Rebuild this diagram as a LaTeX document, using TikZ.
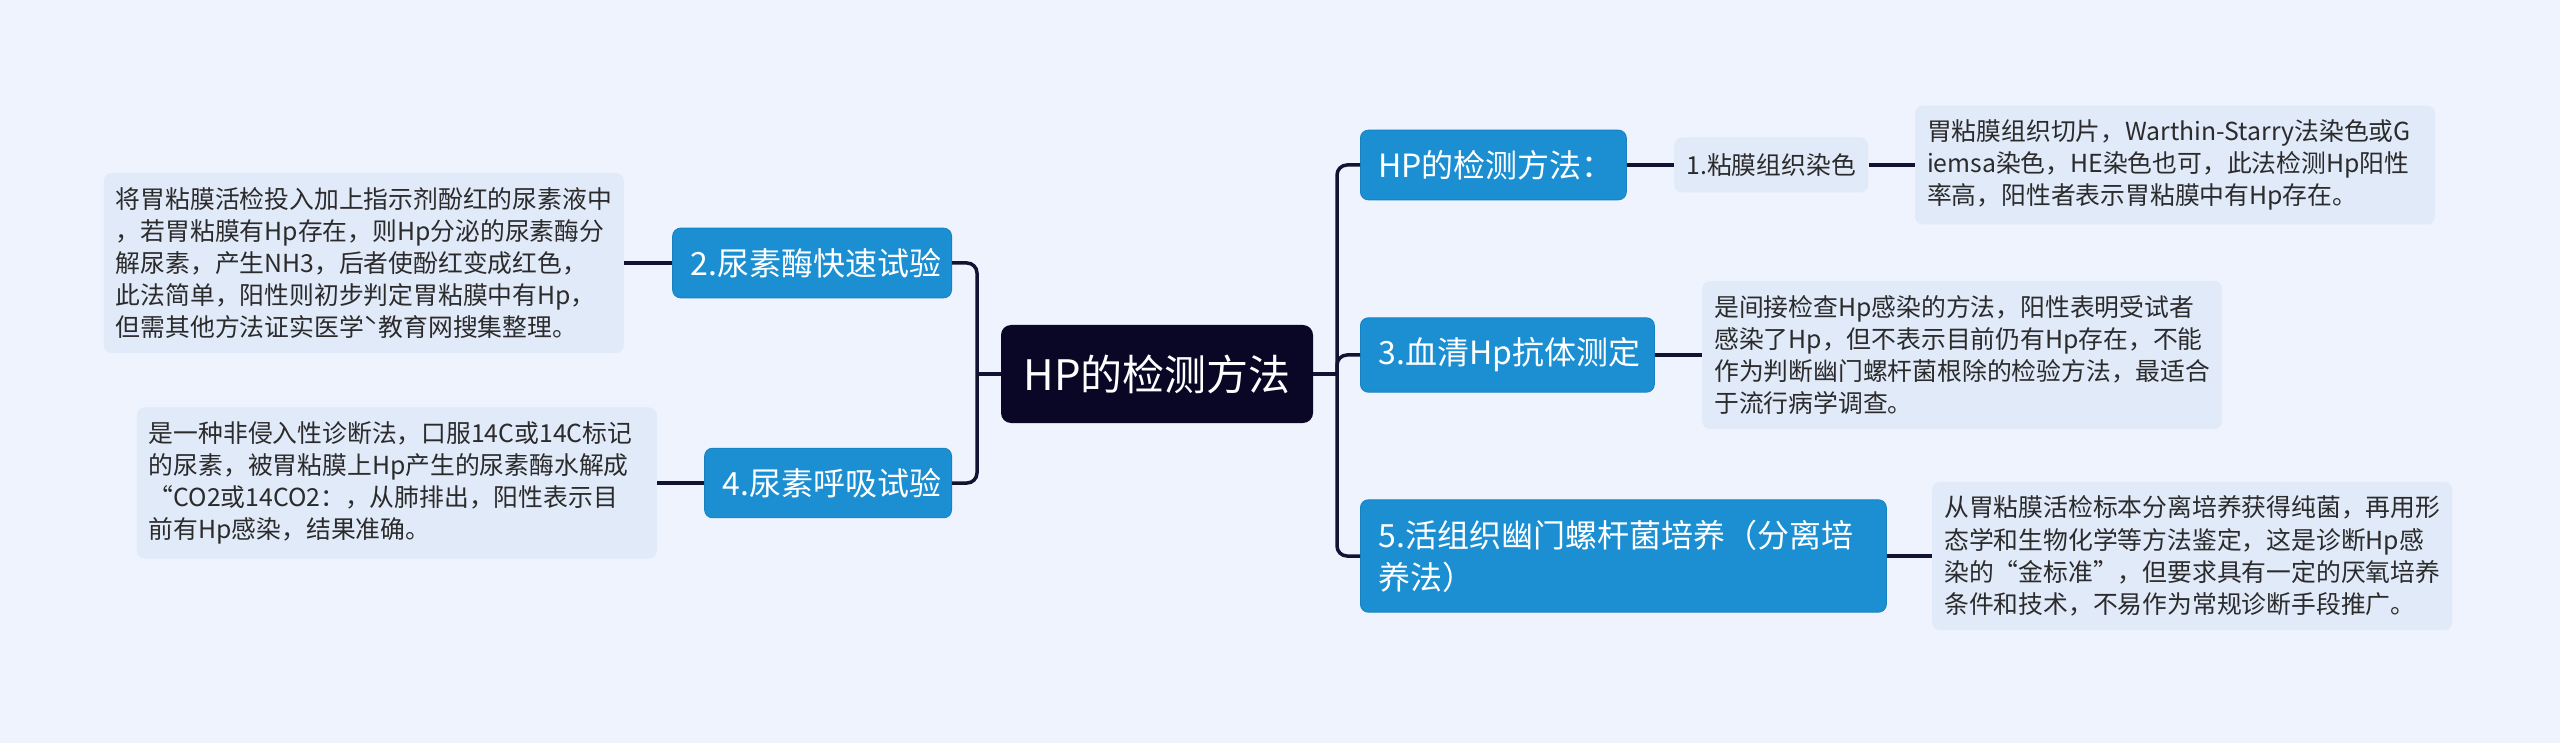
\documentclass[tikz,border=0pt]{standalone}
\usepackage{fontspec}
\setmainfont{Noto Sans CJK SC}
\usetikzlibrary{positioning}

\definecolor{pagebg}{HTML}{EEF3FD}
\definecolor{rootnavy}{HTML}{0A0726}
\definecolor{branchblue}{HTML}{1B8FD2}
\definecolor{branchedge}{HTML}{1682C2}
\definecolor{leafbg}{HTML}{E1EAF9}
\definecolor{leaftext}{HTML}{2B2B2B}
\definecolor{linknavy}{HTML}{141233}

\begin{document}
\begin{tikzpicture}[
    x=0.5pt, y=-0.5pt,
    node distance=23.5pt,
    root/.style={
        rectangle,
        fill=rootnavy,
        rounded corners=5pt,
        text=white,
        minimum width=156pt,
        minimum height=49pt,
        font=\fontsize{21}{26}\selectfont
    },
    branch/.style={
        rectangle,
        draw=branchedge,
        fill=branchblue,
        rounded corners=4pt,
        text=white,
        align=left,
        inner xsep=9pt,
        inner ysep=10pt,
        font=\fontsize{16}{21}\selectfont
    },
    topic/.style={
        rectangle,
        fill=leafbg,
        rounded corners=4pt,
        text=leaftext,
        minimum width=97pt,
        minimum height=27.5pt,
        font=\fontsize{12.4}{16}\selectfont
    },
    leaf/.style={
        rectangle,
        fill=leafbg,
        rounded corners=4pt,
        text=leaftext,
        align=left,
        text width=248pt,
        inner xsep=6pt,
        inner ysep=7pt,
        font=\fontsize{12.4}{16.1}\selectfont
    },
    link/.style={
        draw=linknavy,
        line width=1.75pt,
        rounded corners=5pt
    }
]

    % --- Canvas ---
    \fill[pagebg] (0,0) rectangle (2560,743);
    \useasboundingbox (0,0) rectangle (2560,743);

    % --- Root ---
    \node [root] (root) at (1157,374) {HP的检测方法};
    \coordinate (hubR) at (1337,374);
    \coordinate (hubL) at (977,374);

    % --- Right side ---
    \node [branch, text width=115pt, anchor=west] (detect) at (1360,165) {HP的检测方法：};
    \node [topic, right=of detect] (stain) {1.粘膜组织染色};
    \node [leaf, right=23pt of stain] (stainleaf) {
        胃粘膜组织切片，Warthin-Starry法染色或G\\
        iemsa染色，HE染色也可，此法检测Hp阳性\\
        率高，阳性者表示胃粘膜中有Hp存在。
    };

    \node [branch, text width=129pt, anchor=west] (serum) at (1360,355) {3.血清Hp抗体测定};
    \node [leaf, right=of serum] (serumleaf) {
        是间接检查Hp感染的方法，阳性表明受试者\\
        感染了Hp，但不表示目前仍有Hp存在，不能\\
        作为判断幽门螺杆菌根除的检验方法，最适合\\
        于流行病学调查。
    };

    \node [branch, text width=245pt, anchor=west] (culture) at (1360,556) {
        5.活组织幽门螺杆菌培养（分离培\\
        养法）
    };
    \node [leaf, right=22.5pt of culture] (cultureleaf) {
        从胃粘膜活检标本分离培养获得纯菌，再用形\\
        态学和生物化学等方法鉴定，这是诊断Hp感\\
        染的“金标准”，但要求具有一定的厌氧培养\\
        条件和技术，不易作为常规诊断手段推广。
    };

    % --- Left side ---
    \node [branch, text width=121.5pt, anchor=east] (urease) at (952,263) {2.尿素酶快速试验};
    \node [leaf, left=24pt of urease] (ureaseleaf) {
        将胃粘膜活检投入加上指示剂酚红的尿素液中\\
        ，若胃粘膜有Hp存在，则Hp分泌的尿素酶分\\
        解尿素，产生NH3，后者使酚红变成红色，\\
        此法简单，阳性则初步判定胃粘膜中有Hp，\\
        但需其他方法证实医学ˋ教育网搜集整理。
    };

    \node [branch, text width=105.5pt, anchor=east] (breath) at (952,483) {4.尿素呼吸试验};
    \node [leaf, left=of breath] (breathleaf) {
        是一种非侵入性诊断法，口服14C或14C标记\\
        的尿素，被胃粘膜上Hp产生的尿素酶水解成\\
        “CO2或14CO2：，从肺排出，阳性表示目\\
        前有Hp感染，结果准确。
    };

    % --- Links ---
    \draw [link] (root.east) -- (hubR);
    \draw [link] (hubR) |- (detect.west);
    \draw [link] (hubR) |- (serum.west);
    \draw [link] (hubR) |- (culture.west);
    \draw [link] (root.west) -- (hubL);
    \draw [link] (hubL) |- (urease.east);
    \draw [link] (hubL) |- (breath.east);

    \draw [link] (detect) -- (stain);
    \draw [link] (stain) -- (stainleaf);
    \draw [link] (serum) -- (serumleaf);
    \draw [link] (culture.east) -- (culture.east -| cultureleaf.west);
    \draw [link] (urease) -- (ureaseleaf);
    \draw [link] (breath) -- (breathleaf);

\end{tikzpicture}
\end{document}
